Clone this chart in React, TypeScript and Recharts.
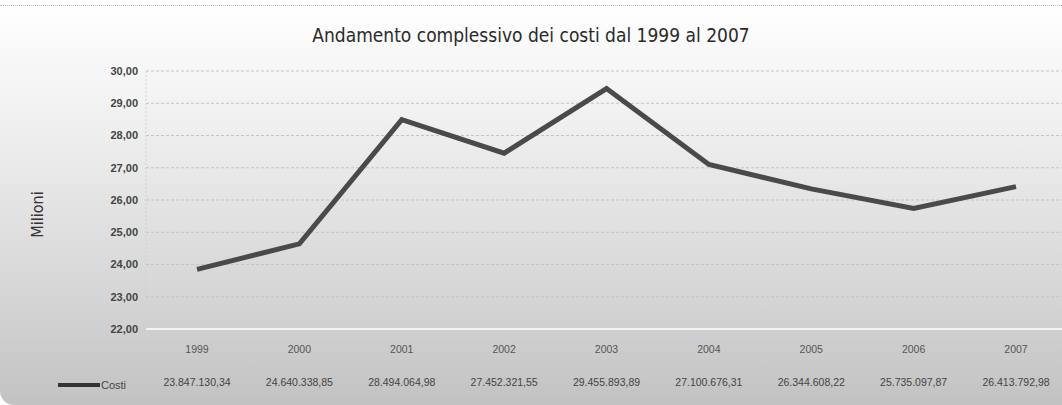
import React from "react";
import { LineChart, Line, XAxis, YAxis, CartesianGrid, Legend } from "recharts";

const years = ["1999", "2000", "2001", "2002", "2003", "2004", "2005", "2006", "2007"];
const costi = [
  23847130.34, 24640338.85, 28494064.98, 27452321.55, 29455893.89, 27100676.31, 26344608.22, 25735097.87,
  26413792.98,
];
const yTicks = [22, 23, 24, 25, 26, 27, 28, 29, 30];

const data = years.map((year, i) => ({ year, costi: costi[i] / 1e6, raw: costi[i] }));

const fmtEuro = (v: number) =>
  v.toLocaleString("it-IT", { minimumFractionDigits: 2, maximumFractionDigits: 2, useGrouping: "always" } as any);

const YearTick = (props: any) => {
  const { x, y, payload, index } = props;
  return (
    <g>
      <text x={x} y={y + 16} textAnchor="middle" fontSize={10.5} fill="#555" fontFamily="Liberation Sans, Arial">
        {payload.value}
      </text>
      <text x={x} y={y + 49} textAnchor="middle" fontSize={10.5} fill="#444" fontFamily="Liberation Sans, Arial">
        {fmtEuro(data[index].raw)}
      </text>
    </g>
  );
};

const LegendRow = () => (
  <div style={{ display: "flex", alignItems: "center", fontFamily: "Liberation Sans, Arial", fontSize: 11, color: "#444" }}>
    <span style={{ display: "inline-block", width: 42, height: 4, background: "#333", marginRight: 1 }} />
    Costi
  </div>
);

export default function App() {
  return (
    <div
      style={{
        position: "absolute",
        left: 0,
        top: 0,
        width: 1062,
        height: 405,
        overflow: "hidden",
        background: "linear-gradient(#ffffff 0%, #f0f0f0 30%, #d4d4d4 75%, #c2c2c2 100%)",
        borderBottomLeftRadius: 14,
      }}
    >
      <div style={{ position: "absolute", left: 0, right: 0, top: 5, borderTop: "1px dotted #bbb" }} />
      <div
        style={{
          position: "absolute",
          top: 24,
          width: "100%",
          textAlign: "center",
          fontFamily: "DejaVu Sans Condensed, DejaVu Sans",
          fontSize: 19,
          color: "#2a2a2a",
        }}
      >
        Andamento complessivo dei costi dal 1999 al 2007
      </div>
      <div
        style={{
          position: "absolute",
          left: 14,
          top: 205,
          transform: "rotate(-90deg)",
          fontFamily: "DejaVu Sans Condensed, DejaVu Sans",
          fontSize: 16,
          color: "#333",
        }}
      >
        Milioni
      </div>
      <LineChart width={1066} height={405} data={data} margin={{ top: 71, right: 0, bottom: 0, left: 0 }}>
        <CartesianGrid vertical={false} stroke="#c4c4c4" strokeDasharray="3 2" />
        <XAxis
          dataKey="year"
          height={64}
          padding={{ left: 51, right: 50 }}
          axisLine={{ stroke: "#f4f4f4", strokeWidth: 2 }}
          tickLine={false}
          tick={<YearTick />}
          interval={0}
        />
        <YAxis
          width={146}
          domain={[22, 30]}
          ticks={yTicks}
          tickFormatter={(v: number) => v.toFixed(2).replace(".", ",")}
          axisLine={{ stroke: "#d0d0d0", strokeDasharray: "2 2" }}
          tickLine={false}
          tick={{ fontSize: 11, fill: "#444", fontWeight: "bold", fontFamily: "Liberation Sans, Arial" }}
          tickMargin={2}
        />
        <Legend content={<LegendRow />} wrapperStyle={{ position: "absolute", left: 58, top: 379, width: 80 }} />
        <Line
          type="linear"
          dataKey="costi"
          name="Costi"
          stroke="#4a4a4a"
          strokeWidth={5}
          dot={false}
          activeDot={false}
          isAnimationActive={false}
        />
      </LineChart>
    </div>
  );
}
